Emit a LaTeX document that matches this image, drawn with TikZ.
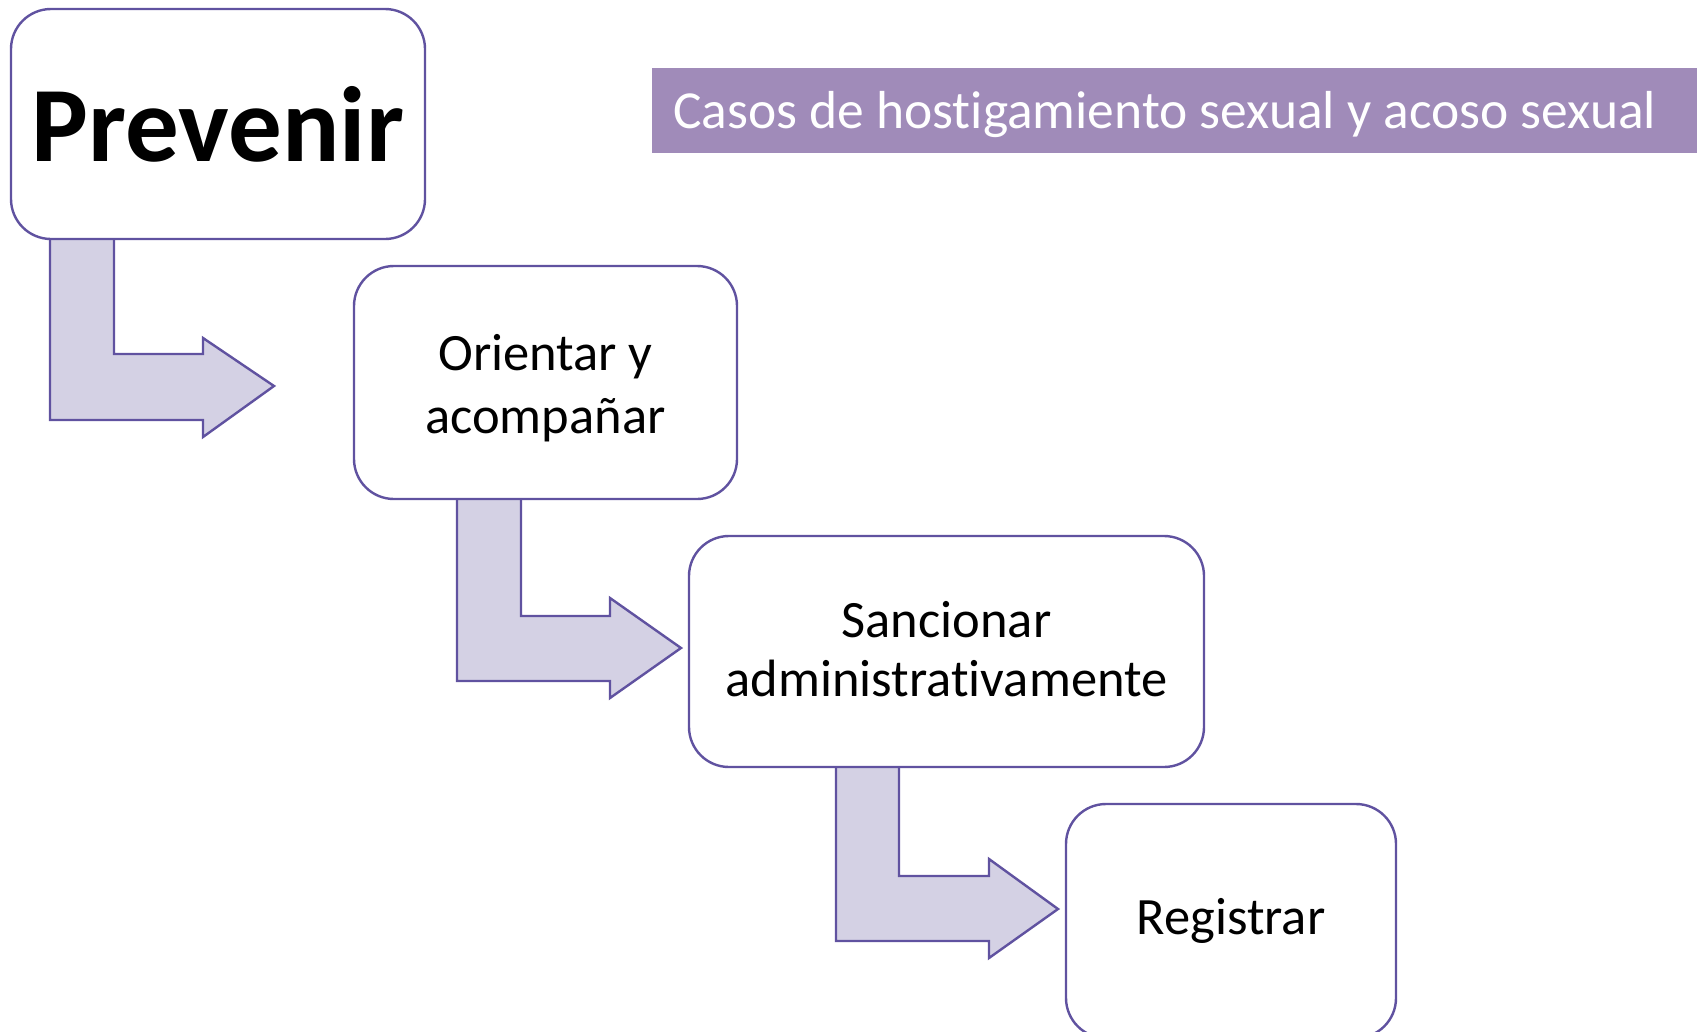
\documentclass[tikz,border=0pt]{standalone}
\usepackage{fontspec}
\setmainfont[Ligatures=NoCommon]{Carlito}
\definecolor{lineP}{RGB}{96,82,160}
\definecolor{arrowF}{RGB}{212,209,228}
\definecolor{barF}{RGB}{160,139,185}
\tikzset{
  stepbox/.style={draw=lineP, line width=2.4pt, fill=white, rounded corners=40pt, inner sep=0pt},
  steptext/.style={inner sep=0pt, align=center, font=\fontsize{52.5}{60}\selectfont},
  bentarrow/.style={draw=lineP, line width=2.4pt, fill=arrowF, line join=miter},
}
\begin{document}
\begin{tikzpicture}[x=1pt,y=-1pt]
\useasboundingbox (0,0) rectangle (1697,1031);
\clip (0,0) rectangle (1697,1031);
\fill[white] (0,0) rectangle (1697,1031);
% title bar
\node[fill=barF, minimum width=1045pt, minimum height=85pt, inner sep=0pt, anchor=north west] (bar) at (652,68) {};
\node[anchor=west, text=white, inner sep=0pt, font=\fontsize{53.5}{60}\selectfont] (title) at (673,115) {Casos de hostigamiento sexual y acoso sexual};
% arrows
\draw[bentarrow] (50,238) -- (50,420) -- (203,420) -- (203,437) -- (274,386) -- (203,338) -- (203,354) -- (114,354) -- (114,238) -- cycle;
\draw[bentarrow] (457,498) -- (457,681) -- (610,681) -- (610,698) -- (681,648) -- (610,598) -- (610,616) -- (521,616) -- (521,498) -- cycle;
\draw[bentarrow] (836,766) -- (836,941) -- (989,941) -- (989,958) -- (1058,909) -- (989,859) -- (989,876) -- (899,876) -- (899,766) -- cycle;
% boxes
\node[stepbox, minimum width=414pt, minimum height=230pt] (prev) at (218,124) {};
\node[stepbox, minimum width=383pt, minimum height=233pt] (orient) at (545.5,382.5) {};
\node[stepbox, minimum width=515pt, minimum height=231pt] (sanc) at (946.5,651.5) {};
\node[stepbox, minimum width=330pt, minimum height=234pt] (reg) at (1231,921) {};
% texts
\node[steptext, font=\fontsize{107}{115}\selectfont\bfseries] (prevT) at (218,124) {Prevenir};
\node[steptext, font=\fontsize{52.5}{63}\selectfont] (orientT) at (545.5,388) {Orientar y\\acompañar};
\node[steptext, font=\fontsize{52.5}{59}\selectfont] (sancT) at (946.5,649) {Sancionar\\administrativamente};
\node[steptext] (regT) at (1231,921) {Registrar};
\end{tikzpicture}
\end{document}
